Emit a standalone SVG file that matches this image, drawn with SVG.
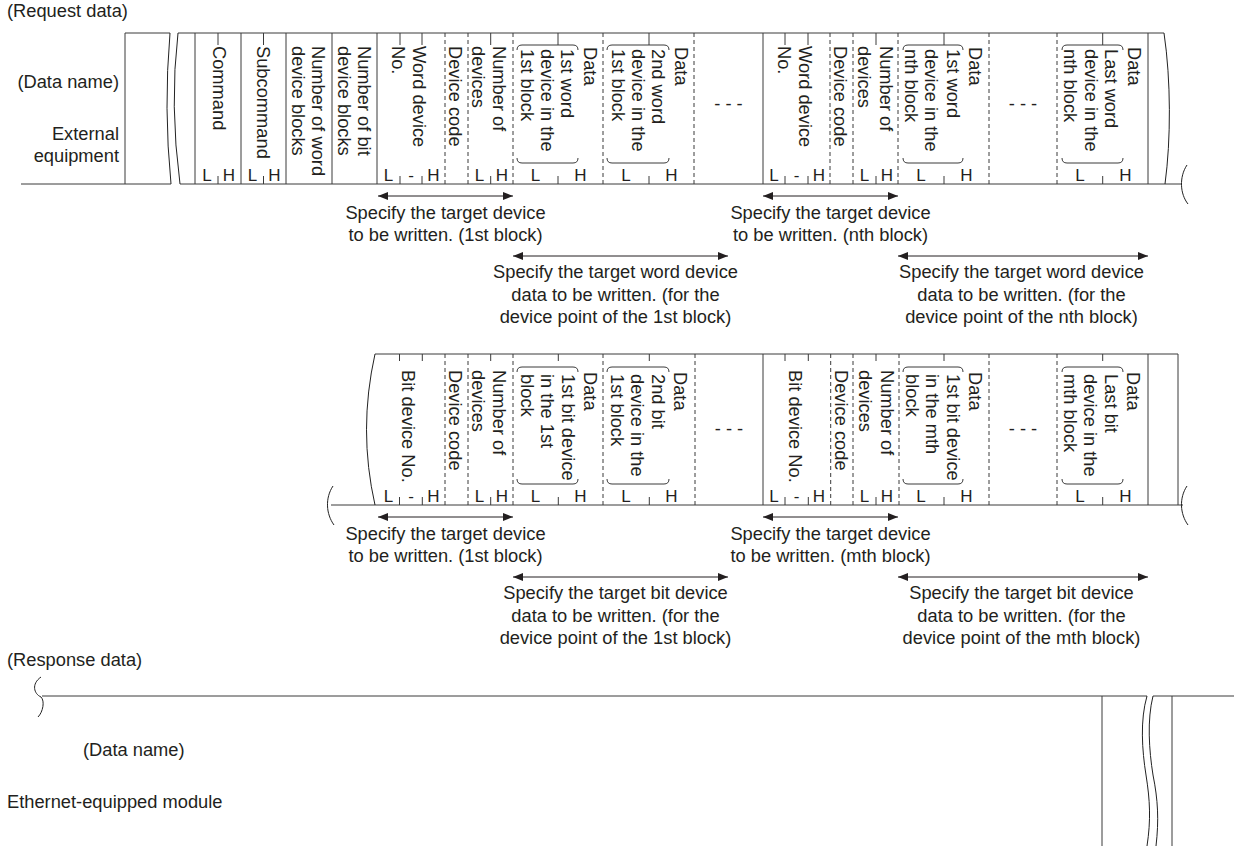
<svg xmlns="http://www.w3.org/2000/svg" width="1234" height="846" viewBox="0 0 1234 846">
<defs>
<style>
.t{font-family:"Liberation Sans",Arial,sans-serif;font-size:18.3px;fill:#231f20}
.c{text-anchor:middle}
.e{text-anchor:end}
.lh{font-family:"Liberation Sans",Arial,sans-serif;font-size:17px;fill:#231f20;text-anchor:middle}
.s{fill:none;stroke:#3a3a3a;stroke-width:1}
.d{fill:none;stroke:#3a3a3a;stroke-width:1;stroke-dasharray:4 3}
.w{fill:none;stroke:#222;stroke-width:1}
.a{fill:none;stroke:#231f20;stroke-width:1;marker-start:url(#ah);marker-end:url(#ah)}
</style>
<marker id="ah" viewBox="0 0 10 8" refX="10" refY="4" markerWidth="10" markerHeight="8" markerUnits="userSpaceOnUse" orient="auto-start-reverse">
<path d="M0,0 L10,4 L0,8 z" fill="#231f20"/>
</marker>
</defs>
<rect width="1234" height="846" fill="#fff"/>

<g id="labels">
<text class="t" x="7" y="17">(Request data)</text>
<text class="t e" x="119" y="88">(Data name)</text>
<text class="t e" x="119" y="140">External</text>
<text class="t e" x="119" y="162">equipment</text>
<text class="t" x="7" y="666">(Response data)</text>
<text class="t" x="83" y="756">(Data name)</text>
<text class="t" x="7" y="808">Ethernet-equipped module</text>
</g>

<g id="row1-frame">
<path class="s" d="M125,33 H170 M178,33 H1164 M21,184 H171 M180,184 H1182"/>
<path class="s" d="M125,33 V184 M195,33 V184 M241,33 V184 M286,33 V184 M332,33 V184 M377,33 V184 M763,33 V184 M1148,33 V184"/>
<path class="d" d="M445,33 V184 M468,33 V184 M513,33 V184 M603,33 V184 M694,33 V184 M830,33 V184 M853,33 V184 M898,33 V184 M989,33 V184 M1057,33 V184"/>
<path class="s" d="M218,33 V45 M263.5,33 V45 M400,33 V45 M422,33 V45 M490.7,33 V45 M558,33 V45 M649,33 V45 M785,33 V45 M808,33 V45 M876,33 V45 M944,33 V45 M1102.7,33 V45"/>
<path class="s" d="M218,176 V184 M263.5,176 V184 M400,176 V184 M422,176 V184 M490.7,176 V184 M558,176 V184 M649,176 V184 M785,176 V184 M808,176 V184 M876,176 V184 M944,176 V184 M1102.7,176 V184"/>
<path class="w" d="M170,33 Q163.5,108 171,184 M178,33 Q169.5,105 180,184"/>
<path class="w" d="M1164,33 C1171,80 1171,140 1165,184"/>
<path class="w" d="M1187,165 C1179,177 1180,194 1188,204"/>
<path class="s" d="M517,50 Q517,45 522,45 H573 Q578,45 578,50 M517,158 Q517,163 522,163 H573 Q578,163 578,158"/>
<path class="s" d="M607,50 Q607,45 612,45 H664 Q669,45 669,50 M607,158 Q607,163 612,163 H664 Q669,163 669,158"/>
<path class="s" d="M903,50 Q903,45 908,45 H958 Q963,45 963,50 M903,158 Q903,163 908,163 H958 Q963,163 963,158"/>
<path class="s" d="M1062,50 Q1062,45 1067,45 H1118 Q1123,45 1123,50 M1062,158 Q1062,163 1067,163 H1118 Q1123,163 1123,158"/>
</g>

<g id="row1-command"><text class="t" transform="translate(212.5,46) rotate(90)">Command</text><text class="lh" x="207" y="181">L</text><text class="lh" x="229" y="181">H</text></g>
<g id="row1-subcommand"><text class="t" transform="translate(257,46) rotate(90)">Subcommand</text><text class="lh" x="252.5" y="181">L</text><text class="lh" x="274.5" y="181">H</text></g>
<g id="row1-word-blocks"><text class="t" transform="translate(312,46) rotate(90)">Number of word</text><text class="t" transform="translate(292,46) rotate(90)">device blocks</text></g>
<g id="row1-bit-blocks"><text class="t" transform="translate(358,46) rotate(90)">Number of bit</text><text class="t" transform="translate(338,46) rotate(90)">device blocks</text></g>
<g id="row1-word-no-1"><text class="t" transform="translate(412.5,46) rotate(90)">Word device</text><text class="t" transform="translate(391.5,46) rotate(90)">No.</text><text class="lh" x="388.5" y="181">L</text><text class="lh" x="411" y="181">-</text><text class="lh" x="433.5" y="181">H</text></g>
<g id="row1-code-1"><text class="t" transform="translate(448.5,46) rotate(90)">Device code</text></g>
<g id="row1-num-1"><text class="t" transform="translate(493,46) rotate(90)">Number of</text><text class="t" transform="translate(472,46) rotate(90)">devices</text><text class="lh" x="479.5" y="181">L</text><text class="lh" x="502" y="181">H</text></g>
<g id="row1-data-1"><text class="t" transform="translate(583.5,47) rotate(90)">Data</text><text class="t" transform="translate(561,49) rotate(90)">1st word</text><text class="t" transform="translate(540.5,49) rotate(90)">device in the</text><text class="t" transform="translate(520.5,49) rotate(90)">1st block</text><text class="lh" x="535.5" y="181">L</text><text class="lh" x="580.5" y="181">H</text></g>
<g id="row1-data-2"><text class="t" transform="translate(675,47) rotate(90)">Data</text><text class="t" transform="translate(652,49) rotate(90)">2nd word</text><text class="t" transform="translate(631.5,49) rotate(90)">device in the</text><text class="t" transform="translate(611.5,49) rotate(90)">1st block</text><text class="lh" x="626" y="181">L</text><text class="lh" x="671.5" y="181">H</text></g>
<g id="row1-dots-1"><text class="t c" x="728.5" y="110">- - -</text></g>
<g id="row1-word-no-n"><text class="t" transform="translate(799,46) rotate(90)">Word device</text><text class="t" transform="translate(778,46) rotate(90)">No.</text><text class="lh" x="774" y="181">L</text><text class="lh" x="796.5" y="181">-</text><text class="lh" x="819" y="181">H</text></g>
<g id="row1-code-n"><text class="t" transform="translate(834,46) rotate(90)">Device code</text></g>
<g id="row1-num-n"><text class="t" transform="translate(880,46) rotate(90)">Number of</text><text class="t" transform="translate(858,46) rotate(90)">devices</text><text class="lh" x="864.5" y="181">L</text><text class="lh" x="887" y="181">H</text></g>
<g id="row1-data-n"><text class="t" transform="translate(968.5,47) rotate(90)">Data</text><text class="t" transform="translate(946.5,49) rotate(90)">1st word</text><text class="t" transform="translate(925,49) rotate(90)">device in the</text><text class="t" transform="translate(905,49) rotate(90)">nth block</text><text class="lh" x="921" y="181">L</text><text class="lh" x="966.5" y="181">H</text></g>
<g id="row1-dots-n"><text class="t c" x="1023" y="110">- - -</text></g>
<g id="row1-data-last"><text class="t" transform="translate(1128,47) rotate(90)">Data</text><text class="t" transform="translate(1105,49) rotate(90)">Last word</text><text class="t" transform="translate(1085,49) rotate(90)">device in the</text><text class="t" transform="translate(1063.5,49) rotate(90)">nth block</text><text class="lh" x="1080" y="181">L</text><text class="lh" x="1125.4" y="181">H</text></g>

<g id="row2-frame">
<path class="s" d="M375,354 H1178 M331,505 H1183"/>
<path class="w" d="M375,354 Q358,430 375,505"/>
<path class="w" d="M333,486 C325,498 326,514 334,525"/>
<path class="w" d="M1187,486 C1179,498 1180,514 1188,525"/>
<path class="s" d="M763,354 V505 M1148,354 V505 M1178,354 V505"/>
<path class="d" d="M445,354 V505 M468,354 V505 M513,354 V505 M603,354 V505 M695,354 V505 M830.7,354 V505 M853,354 V505 M899,354 V505 M989,354 V505 M1057,354 V505"/>
<path class="s" d="M399.5,354 V361 M422.3,354 V361 M490.7,354 V361 M558.3,354 V361 M649.3,354 V361 M785,354 V361 M808.3,354 V361 M876,354 V361 M944,354 V361 M1102.7,354 V361"/>
<path class="s" d="M399.5,497 V505 M422.3,497 V505 M490.7,497 V505 M558.3,497 V505 M649.3,497 V505 M785,497 V505 M808.3,497 V505 M876,497 V505 M944,497 V505 M1102.7,497 V505"/>
<path class="s" d="M517,372 Q517,367 522,367 H573 Q578,367 578,372 M517,479 Q517,484 522,484 H573 Q578,484 578,479"/>
<path class="s" d="M607,372 Q607,367 612,367 H664 Q669,367 669,372 M607,479 Q607,484 612,484 H664 Q669,484 669,479"/>
<path class="s" d="M903,372 Q903,367 908,367 H958 Q963,367 963,372 M903,479 Q903,484 908,484 H958 Q963,484 963,479"/>
<path class="s" d="M1062,372 Q1062,367 1067,367 H1118 Q1123,367 1123,372 M1062,479 Q1062,484 1067,484 H1118 Q1123,484 1123,479"/>
</g>

<g id="row2-bit-no-1"><text class="t" transform="translate(402,370) rotate(90)">Bit device No.</text><text class="lh" x="388.5" y="502">L</text><text class="lh" x="411" y="502">-</text><text class="lh" x="433.5" y="502">H</text></g>
<g id="row2-code-1"><text class="t" transform="translate(448.5,370) rotate(90)">Device code</text></g>
<g id="row2-num-1"><text class="t" transform="translate(493,370) rotate(90)">Number of</text><text class="t" transform="translate(472,370) rotate(90)">devices</text><text class="lh" x="479.5" y="502">L</text><text class="lh" x="502" y="502">H</text></g>
<g id="row2-data-1"><text class="t" transform="translate(583.5,372) rotate(90)">Data</text><text class="t" transform="translate(562,374) rotate(90)">1st bit device</text><text class="t" transform="translate(540.5,374) rotate(90)">in the 1st</text><text class="t" transform="translate(520.5,374) rotate(90)">block</text><text class="lh" x="535.5" y="502">L</text><text class="lh" x="580.5" y="502">H</text></g>
<g id="row2-data-2"><text class="t" transform="translate(674,372) rotate(90)">Data</text><text class="t" transform="translate(652,374) rotate(90)">2nd bit</text><text class="t" transform="translate(630.5,374) rotate(90)">device in the</text><text class="t" transform="translate(610.5,374) rotate(90)">1st block</text><text class="lh" x="626" y="502">L</text><text class="lh" x="671.5" y="502">H</text></g>
<g id="row2-dots-1"><text class="t c" x="729" y="435">- - -</text></g>
<g id="row2-bit-no-m"><text class="t" transform="translate(788.5,370) rotate(90)">Bit device No.</text><text class="lh" x="774" y="502">L</text><text class="lh" x="796.5" y="502">-</text><text class="lh" x="819" y="502">H</text></g>
<g id="row2-code-m"><text class="t" transform="translate(835,370) rotate(90)">Device code</text></g>
<g id="row2-num-m"><text class="t" transform="translate(880.5,370) rotate(90)">Number of</text><text class="t" transform="translate(858.5,370) rotate(90)">devices</text><text class="lh" x="864.5" y="502">L</text><text class="lh" x="887" y="502">H</text></g>
<g id="row2-data-m"><text class="t" transform="translate(968.5,372) rotate(90)">Data</text><text class="t" transform="translate(947,374) rotate(90)">1st bit device</text><text class="t" transform="translate(925.5,374) rotate(90)">in the mth</text><text class="t" transform="translate(905.5,374) rotate(90)">block</text><text class="lh" x="921" y="502">L</text><text class="lh" x="966.5" y="502">H</text></g>
<g id="row2-dots-m"><text class="t c" x="1023" y="435">- - -</text></g>
<g id="row2-data-last"><text class="t" transform="translate(1127,372) rotate(90)">Data</text><text class="t" transform="translate(1105,374) rotate(90)">Last bit</text><text class="t" transform="translate(1083.5,374) rotate(90)">device in the</text><text class="t" transform="translate(1063.5,374) rotate(90)">mth block</text><text class="lh" x="1080" y="502">L</text><text class="lh" x="1125.4" y="502">H</text></g>

<g id="response-frame">
<path class="s" d="M42,696 H1147 M1153,696 H1234"/>
<path class="w" d="M41,677 C31,684 34,694 41,697 C45,701 43,712 38,717"/>
<path class="s" d="M1102,696 V846 M1172,696 V846"/>
<path class="w" d="M1147,696 C1140,720 1142,750 1146,775 C1150,800 1151,820 1147,846 M1153,696 C1147,720 1149,750 1153,775 C1158,800 1159,820 1156,846"/>
</g>

<g id="connectors">
<path class="a" d="M378,196 H513"/>
<path class="a" d="M763,196 H898"/>
<path class="a" d="M513,256 H728"/>
<path class="a" d="M898,256 H1148"/>
<path class="a" d="M378,517 H513"/>
<path class="a" d="M763,517 H898"/>
<path class="a" d="M513,577 H728"/>
<path class="a" d="M898,577 H1148"/>
</g>

<g id="notes">
<text class="t c" x="445.5" y="219">Specify the target device</text>
<text class="t c" x="445.5" y="241">to be written. (1st block)</text>
<text class="t c" x="830.5" y="219">Specify the target device</text>
<text class="t c" x="830.5" y="241">to be written. (nth block)</text>
<text class="t c" x="615.5" y="278">Specify the target word device</text>
<text class="t c" x="615.5" y="300.5">data to be written. (for the</text>
<text class="t c" x="615.5" y="323">device point of the 1st block)</text>
<text class="t c" x="1021.5" y="278">Specify the target word device</text>
<text class="t c" x="1021.5" y="300.5">data to be written. (for the</text>
<text class="t c" x="1021.5" y="323">device point of the nth block)</text>
<text class="t c" x="445.5" y="540">Specify the target device</text>
<text class="t c" x="445.5" y="562">to be written. (1st block)</text>
<text class="t c" x="830.5" y="540">Specify the target device</text>
<text class="t c" x="830.5" y="562">to be written. (mth block)</text>
<text class="t c" x="615.5" y="599">Specify the target bit device</text>
<text class="t c" x="615.5" y="621.5">data to be written. (for the</text>
<text class="t c" x="615.5" y="644">device point of the 1st block)</text>
<text class="t c" x="1021.5" y="599">Specify the target bit device</text>
<text class="t c" x="1021.5" y="621.5">data to be written. (for the</text>
<text class="t c" x="1021.5" y="644">device point of the mth block)</text>
</g>
</svg>
